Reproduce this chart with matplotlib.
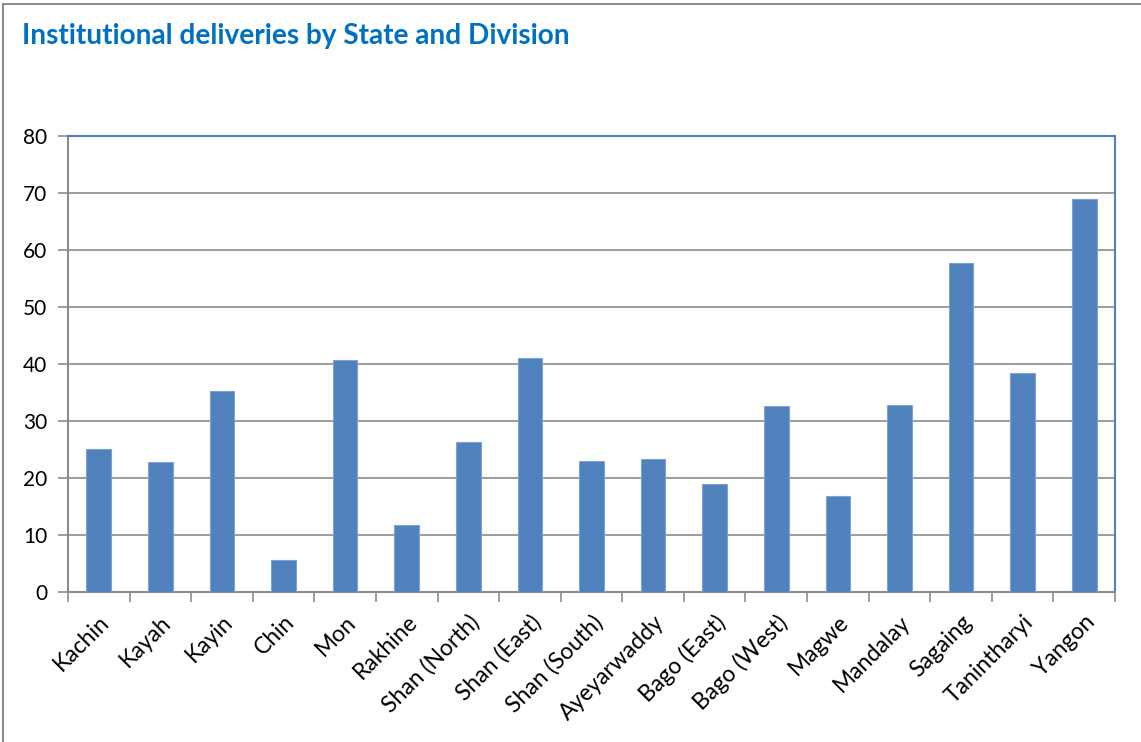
import matplotlib.pyplot as plt
from matplotlib.patches import Rectangle

regions = ["Kachin", "Kayah", "Kayin", "Chin", "Mon", "Rakhine", "Shan (North)",
           "Shan (East)", "Shan (South)", "Ayeyarwaddy", "Bago (East)", "Bago (West)",
           "Magwe", "Mandalay", "Sagaing", "Tanintharyi", "Yangon"]
deliveries = [25.0, 22.8, 35.3, 5.6, 40.7, 11.7, 26.3, 41.1, 23.0, 23.3, 19.0,
              32.6, 16.9, 32.8, 57.7, 38.5, 68.9]
y_ticks = [0, 10, 20, 30, 40, 50, 60, 70, 80]

plt.rcParams['font.family'] = ['Lato', 'DejaVu Sans']

fig = plt.figure(figsize=(11.41, 7.42), dpi=100)
ax = fig.add_axes([0.0596, 0.2022, 0.9176, 0.6145])

# outer chart frame
fig.patches.append(Rectangle((0.003, -0.01), 1.2, 1.004, transform=fig.transFigure,
                             fill=False, edgecolor="#8c8c8c", linewidth=1.5))

x = list(range(len(regions)))
ax.bar(x, deliveries, width=0.4, color="#4F81BD", edgecolor="#7fa3d1", linewidth=0.8, zorder=3)

ax.set_xlim(-0.5, len(regions) - 0.5)
ax.set_ylim(0, 80)
ax.set_yticks(y_ticks)
ax.yaxis.grid(True, color="#8c8c8c", linewidth=1.2, zorder=0)

ax.set_xticks(x)
ax.set_xticklabels(regions, rotation=45, ha="right", rotation_mode="anchor", fontsize=16.5)
ax.set_xticks([i - 0.5 for i in range(len(regions) + 1)], minor=True)
ax.tick_params(axis="x", which="major", length=0, pad=14)
ax.tick_params(axis="x", which="minor", length=7, width=1.2, color="#8c8c8c", direction="out")
ax.tick_params(axis="y", length=7, width=1.2, color="#8c8c8c", labelsize=15, pad=8)

for s in ["left", "bottom"]:
    ax.spines[s].set_color("#8c8c8c")
    ax.spines[s].set_linewidth(1.5)
for s in ["top", "right"]:
    ax.spines[s].set_color("#4F81BD")
    ax.spines[s].set_linewidth(1.5)

fig.text(0.019, 0.951, "Institutional deliveries by State and Division",
         fontsize=20.2, fontweight="bold", color="#0070C0", va="center", ha="left")

plt.savefig("out.png", dpi=100)
